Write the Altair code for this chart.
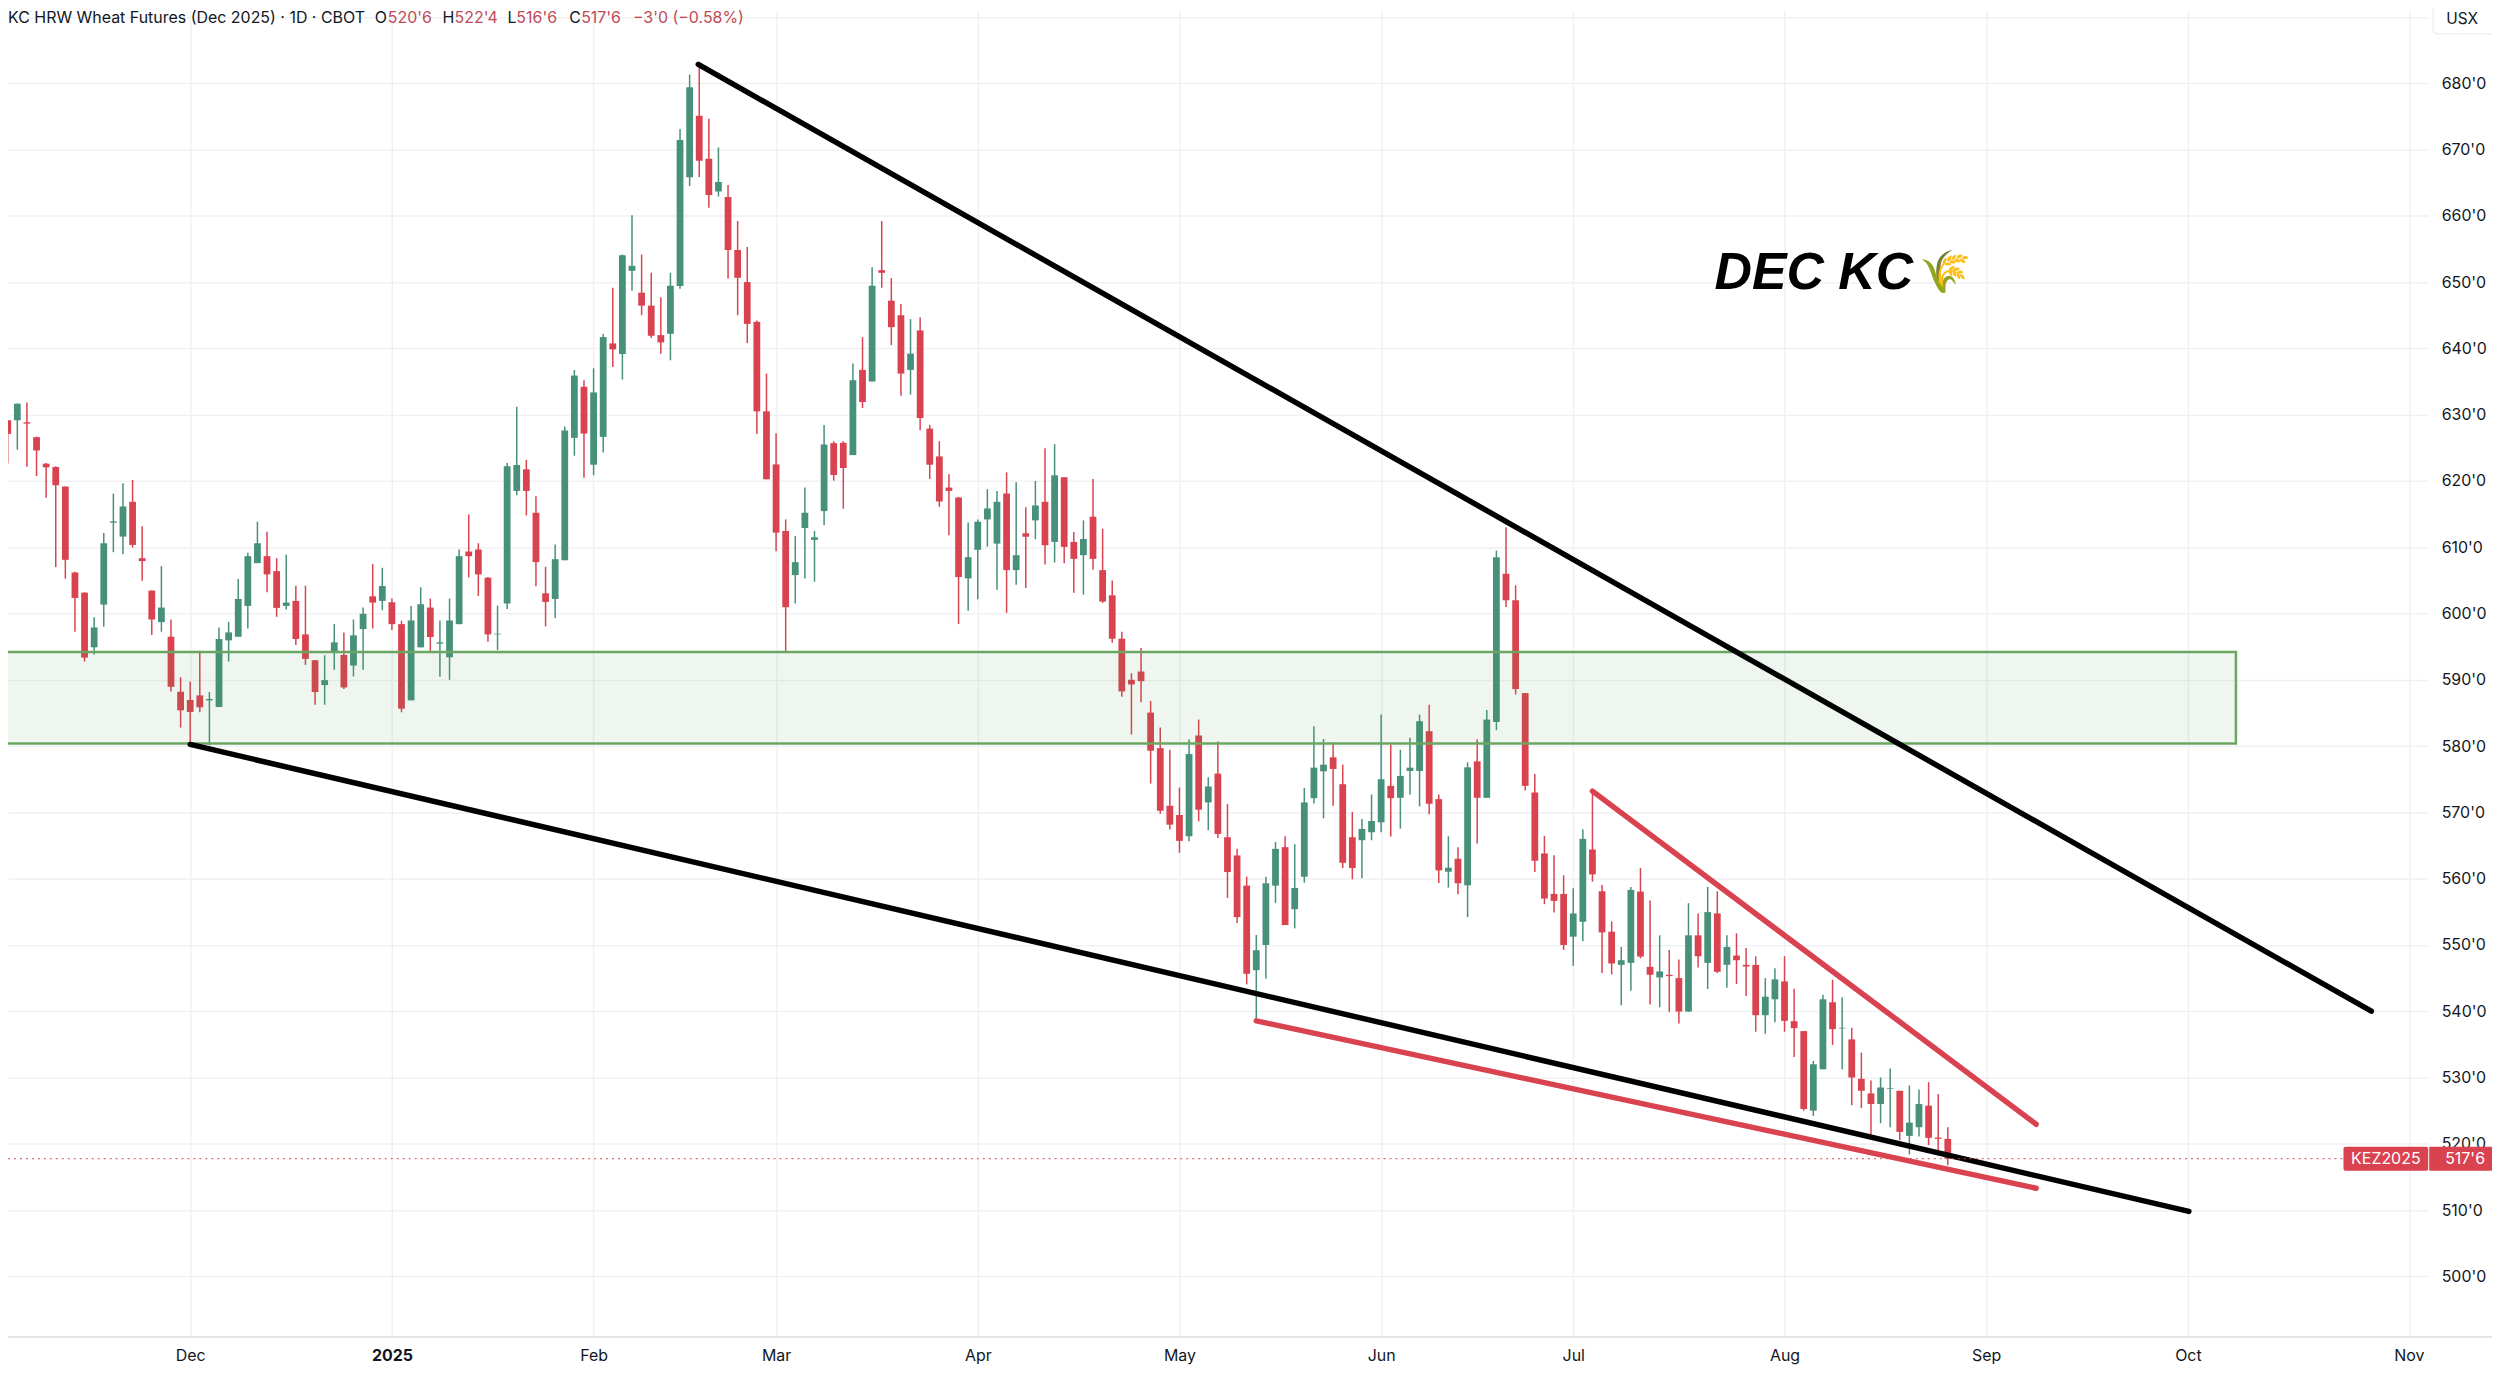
import altair as alt
import pandas as pd

opens = [629.15,629.15,628.85,626.6,622.6,622.1,619.15,606.2,603.15,594.9,
601.35,613.7,611.6,616.85,608.35,603.45,598.7,596.5,588.2,586.95,
587.65,586.9,585.9,595.95,596.5,601.15,607.6,608.65,606.4,601.15,
601.9,596.85,592.95,589.2,594.2,593.75,592.15,597.65,602.6,601.9,
601.7,598.4,586.9,594.9,600.9,595.45,593.4,598.4,609.35,609.65,
605.4,596.85,601.5,618.5,621.75,615.2,603.05,602.2,608.05,626.5,
634.2,622.45,626.65,640.75,639.15,651.7,648.4,646.45,642,642.2,
649.4,665.8,675.1,668.6,663.65,662.85,654.85,650,644,630.5,
622.5,612.45,605.8,612.9,611.1,615.45,625.7,625.75,623.9,636.75,
635,651.8,647.2,645,636.75,642.7,627.9,623.7,619,617.5,
605.3,609.6,614.2,610.55,618.1,606.55,612.1,614.05,616.85,610.8,
620.55,610.8,608.8,614.6,606.55,602.75,596.2,590,591.25,585.05,
579.7,571,569.6,566.4,581.6,571.5,575.85,566.25,563.5,558.95,
546.2,550,558.95,564.75,555.4,560.3,572.15,576.2,578.3,574.25,
566.25,565.8,567,568.5,574,572.2,576.25,576.25,582.25,572,
561.05,563,559,577.7,572.2,583.65,606,602,588,573,
563.8,557.7,557.7,551.25,553.5,564.4,558.1,552,547,547.3,
558.05,546.7,545.1,545.5,545,539.95,551.45,547.3,554.75,547,
548.4,547,547,539.4,541.8,544.5,538.5,537,525,531.25,
541.35,537.4,535.75,529.8,527.6,526,528.3,528,521.2,522.5,
525.75,520.95,520.75]

closes = [627.1,631.65,628.65,624.6,622.05,619.35,608.1,602.35,593.35,597.9,
610.6,613.9,616.15,610.35,607.9,599.1,600.9,588.95,585.4,585.15,
585.85,587.1,596.15,597.15,602.2,608.65,610.6,605.9,600.85,601.65,
596.15,593.15,588.15,589.95,595.65,588.85,596.7,599.95,601.65,604.15,
598.4,585.65,598.95,601.4,596.45,595.65,598.95,608.65,608.65,605.9,
596.85,596.95,622.2,622.4,618.5,607.75,601.75,608.2,627.6,635.9,
627.15,633.35,641.7,639.85,654.05,652.45,646.45,641.9,640.9,649.45,
671.45,679.4,668.3,663.15,665.1,654.85,650.65,643.7,630.5,620.25,
612.2,600.95,607.75,615.2,611.5,625.5,620.9,621.95,635.2,631.9,
649.45,651.4,643.2,636.2,639.2,629.5,622.45,616.9,618.5,605.5,
608.5,613.85,615.85,616.85,606.55,608.8,611.6,616.3,610.3,620.85,
610.05,608.25,611.25,608.25,601.8,596.2,588.25,589.3,589.8,579.3,
570.25,568.15,565.7,578.8,570.4,573.9,566.75,561,554.2,545.65,
549.2,559.3,564.5,553,558.6,571.5,576.75,577.2,576.55,562.4,
561.6,567.5,568.7,575,572.15,575.5,576.75,583.75,571.3,561.25,
561.65,559.3,576.8,572.2,584,608.5,602,588.6,574,562.7,
557,556.65,550,554.75,566,560.65,551.9,547.2,547.7,558.3,
548.25,545.5,546,545.3,539.95,551.45,548.3,554.95,545.95,549.7,
547.7,546.75,539.4,542.2,544.8,538.55,537.45,525.25,532,541.8,
537.3,537.5,530,528,526,528.5,528.4,521.8,523.2,526,
520.9,520.75,517.75]

highs = [629.2,631.7,631.85,626.7,622.7,622.2,619.2,606.3,603.2,599.45,
612.15,618.1,619.65,620.15,613.15,603.5,607.15,599.1,590.4,589.7,
594.4,588.15,597.9,598.75,605.2,609.15,613.85,612.35,608.35,608.85,
604.2,604.2,593,593.7,598.4,597.15,599.1,600.9,607.45,606.9,
602.25,598.9,601.15,603.95,602.25,598.95,602.25,609.65,614.95,610.6,
605.5,601.2,622.7,631.2,623.2,617.7,607.05,610.4,628.2,636.75,
635.2,637,642.2,649.15,654.15,660.1,654.15,651.4,647.7,651.4,
673.1,681.3,682.6,674.65,670.3,664.65,659.2,655.3,644.2,636.2,
627.2,614.2,611.7,619,612.45,628.45,626,626,637.7,641.7,
652.25,659.2,650.6,646.7,644.4,644.7,628.45,626,621,617.6,
613.75,614.2,618.75,618.5,621.3,619.8,616.05,620,624.95,625.55,
620.6,612.3,614.05,620.3,612.8,605,597.25,591,594.8,586.8,
582.8,579.45,573.75,581,584,575.3,580.7,571.25,564.5,560.3,
551.5,560.3,565.55,566.4,565.2,573.7,583,581.05,580.55,577.2,
570.05,569,572.7,584.75,580.25,579.45,581.25,584.75,586.25,572.7,
566.4,564.75,577.55,581.05,585.45,609.5,613,604.25,588,575.8,
566.45,563.55,560.5,558.55,567.45,573.3,559.05,553.55,549.7,558.75,
561.6,556.7,551.45,549.25,547.8,556.3,554.75,558.75,558.1,551.45,
551.75,549.55,548.3,545,546.5,548.3,543.4,537,532.5,542.5,
544.75,542.1,537.5,533.75,529.55,530,531.35,528,528.8,528.2,
529.3,527.5,522.5]

lows = [622.65,624.7,622.15,620.75,617.45,607,605.25,597.25,592.75,593.8,
598,609.25,608.95,609.95,604.95,596.75,597.25,588.25,582.8,580,
585.1,580.1,585.9,592.75,596.5,597.75,607.6,603.2,599.5,600.6,
595.25,592.25,586.25,586.25,591.5,588.6,590.5,591.5,597.75,600.5,
597.5,585.1,586.9,594.9,594.2,590.45,590,598.4,605.45,602.65,
595.75,594.5,600.7,617.85,614.8,604.1,598.05,599.3,608.05,623.8,
620.5,620.85,624.3,637.2,635.3,648.7,645,641.55,639.2,638.2,
649,664.5,665.85,661.2,662.9,650.55,645,640.8,627.1,620.25,
609.4,594.3,601.5,605.3,604.8,613.3,620.05,615.8,623.9,631,
635,649.15,640.5,632.85,633,627.65,620.3,616.1,611.8,598.4,
600.4,602.15,610.1,603.6,600.1,604.35,603.85,611.2,607.4,607.7,
607.6,603.15,602.85,606.6,601.6,595.6,587.45,581.75,586.6,574.35,
569.8,567.4,563.9,565.65,568.65,567.3,566.15,557.1,553.3,544.05,
538.75,544.9,556.35,553,552.5,559.4,571.35,569.1,571,561.6,
559.9,560.05,565.8,567,566.35,567.55,572.7,570.9,569.7,559.35,
558.65,557.65,554.2,565.3,572.2,582.4,601,587.8,573.3,561,
556.15,554.9,549.25,546.85,550.55,559.55,545.75,545.55,540.9,543.1,
548,541,540.6,539.9,538.15,539.9,546.6,543.35,545.75,543.55,
544.1,542.3,536.9,536.6,538.35,536.9,533.1,525,524.2,531.25,
534.9,531.2,525.8,525.4,521.4,523.1,522.5,520.55,518.4,521.1,
519.8,518.85,516.75]

month_bars = [19, 40, 61, 80, 101, 122, 143, 163, 185, 206, 227, 250]
month_labels = ["Dec", "2025", "Feb", "Mar", "Apr", "May", "Jun", "Jul", "Aug", "Sep", "Oct", "Nov"]
price_ticks = list(range(500, 700, 10))

zone_from, zone_to = -5, 232
zone_top, zone_bottom = 594.2, 580.4

trend_names = ["upper", "lower", "red_upper", "red_lower"]
trend_bar_a = [71.9, 19, 165, 130]
trend_price_a = [682.85, 580.25, 573.2, 538.55]
trend_bar_b = [246.1, 227.1, 211.2, 211.2]
trend_price_b = [540, 509.8, 522.95, 513.3]

last_price = 517.75
tag_symbol = "KEZ2025"
tag_price = "517'6"

RED = "#d9434f"
GREEN = "#47907a"
INK = "#131722"
GRID = "#f0f1f4"

n = len(opens)
df = pd.DataFrame({"i": range(n), "o": opens, "c": closes, "h": highs, "l": lows})
df["top"] = df[["o", "c"]].max(axis=1)
df["bot"] = df[["o", "c"]].min(axis=1)
df["col"] = [GREEN if c >= o else RED for o, c in zip(opens, closes)]

X_DOMAIN = [0.548, 251.5]
Y_DOMAIN = [490.87, 691.02]
xs = alt.Scale(domain=X_DOMAIN, nice=False, zero=False)
ys = alt.Scale(domain=Y_DOMAIN, nice=False, zero=False)

label_expr = "[" + ",".join(f"'{m}'" for m in month_labels) + "][indexof([" + ",".join(map(str, month_bars)) + "],datum.value)]"

x_axis = alt.Axis(values=month_bars, labelExpr=label_expr, title=None, grid=True, gridColor=GRID, gridWidth=1.5,
                  domain=False, ticks=False, labelFont="Inter", labelFontSize=16, labelColor=INK, labelPadding=11,
                  labelOverlap=False, labelFlush=False,
                  labelFontWeight={"condition": {"test": "datum.value == 40", "value": "bold"}, "value": "normal"})
y_axis = alt.Axis(values=price_ticks, labelExpr="datum.value >= 690 ? '' : datum.value + \"'0\"", title=None, orient="right",
                  grid=True, gridColor=GRID, gridWidth=1.5, domain=False, ticks=False, labelFont="Inter", labelFontSize=16,
                  labelColor=INK, labelPadding=13, labelOverlap=False, labelFlush=False)

def X(field):
    return alt.X(field, scale=xs, axis=x_axis)

def Y(field):
    return alt.Y(field, scale=ys, axis=y_axis)

base = alt.Chart(df)
wicks = base.mark_rule(strokeWidth=1.5, clip=True).encode(
    x=X("i:Q"), y=Y("h:Q"), y2="l:Q", color=alt.Color("col:N", scale=None),
)
bodies = base.mark_bar(size=6.8, clip=True).encode(
    x=X("i:Q"), y=Y("top:Q"), y2="bot:Q", color=alt.Color("col:N", scale=None),
)

zone = alt.Chart(pd.DataFrame({"a": [zone_from], "b": [zone_to], "t": [zone_top], "u": [zone_bottom]})).mark_rect(
    fill="#4c9f50", fillOpacity=0.09, stroke="#6ba661", strokeWidth=2.5, clip=True
).encode(x=X("a:Q"), x2="b:Q", y=Y("t:Q"), y2="u:Q")

trend_rows = []
for name, a, pa, b, pb in zip(trend_names, trend_bar_a, trend_price_a, trend_bar_b, trend_price_b):
    col = RED if name.startswith("red") else "black"
    trend_rows += [{"n": name, "x": a, "p": pa, "col": col}, {"n": name, "x": b, "p": pb, "col": col}]
trends = alt.Chart(pd.DataFrame(trend_rows)).mark_line(strokeWidth=5.5, strokeCap="round", clip=True).encode(
    x=X("x:Q"), y=Y("p:Q"), detail="n:N", color=alt.Color("col:N", scale=None),
)

price_df = pd.DataFrame({"p": [last_price], "t": [last_price + 1.8], "u": [last_price - 1.8]})
price_line = alt.Chart(price_df).mark_rule(strokeWidth=1, strokeDash=[2, 4], color=RED).encode(
    y=Y("p:Q"), x=alt.value(0), x2=alt.value(2343))
tag_a = alt.Chart(price_df).mark_rect(fill=RED, cornerRadius=2).encode(
    y=Y("t:Q"), y2="u:Q", x=alt.value(2343), x2=alt.value(2428))
tag_b = alt.Chart(price_df).mark_rect(fill=RED, cornerRadius=1).encode(
    y=Y("t:Q"), y2="u:Q", x=alt.value(2429), x2=alt.value(2492))
tag_t1 = alt.Chart(price_df).mark_text(text=tag_symbol, font="Inter", fontSize=16, color="white", align="center", baseline="middle").encode(
    y=Y("p:Q"), x=alt.value(2385.5))
tag_t2 = alt.Chart(price_df).mark_text(text=tag_price, font="Inter", fontSize=16, color="white", align="right", baseline="middle").encode(
    y=Y("p:Q"), x=alt.value(2485))

one = alt.Data(values=[{"k": 1}])
def label(text, px, py, **kw):
    return alt.Chart(one).mark_text(text=text, baseline="middle", **kw).encode(x=alt.value(px), y=alt.value(py))

baseline_rule = alt.Chart(one).mark_rule(color="#e4e6ec", strokeWidth=2).encode(
    x=alt.value(0), x2=alt.value(2492), y=alt.value(1331))
usx_box = alt.Chart(one).mark_rect(fill="white", stroke="#f0f1f4", strokeWidth=1.5, cornerRadius=5).encode(
    x=alt.value(2433), x2=alt.value(2500), y=alt.value(-12), y2=alt.value(24))

HDR_RED = "#c04a56"
header = [
    ("KC HRW Wheat Futures (Dec 2025) \u00b7 1D \u00b7 CBOT", INK, 0),
    ("O", INK, 368), ("520'6", HDR_RED, 381),
    ("H", INK, 436), ("522'4", HDR_RED, 448),
    ("L", INK, 501), ("516'6", HDR_RED, 510),
    ("C", INK, 563), ("517'6", HDR_RED, 575),
    ("\u22123'0 (\u22120.58%)", HDR_RED, 627),
]
header_marks = [label(t, x, 8, font="Inter", fontSize=16, color=c, align="left") for t, c, x in header]

layers = [wicks, bodies, zone, trends, price_line, baseline_rule, usx_box, tag_a, tag_b, tag_t1, tag_t2,
          label("USX", 2462, 9, font="Inter", fontSize=15.5, color=INK, align="center"),
          label("DEC KC", 1712, 264, font="Liberation Sans", fontSize=52, fontWeight="bold", fontStyle="italic", color="black", align="left"),
          label("\U0001F33E", 1943, 264, fontSize=42, color="#d8b04a", align="center"),
          ] + header_marks

chart = alt.layer(*layers).properties(
    width=2428, height=1331, autosize="none",
    padding={"left": 0, "top": 0, "right": 64, "bottom": 26},
    background="white",
).configure_view(stroke=None)

chart.save("out.html", embed_options={"renderer": "svg", "actions": False})
